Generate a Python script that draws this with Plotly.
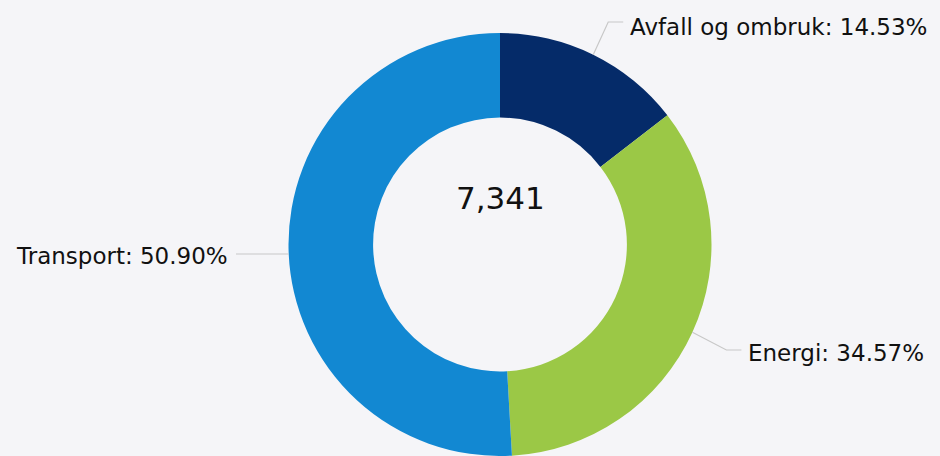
import math
import plotly.graph_objects as go

# ---- data ----
categories = ["Avfall og ombruk", "Energi", "Transport"]
shares = [14.53, 34.57, 50.90]
total = 7341
colors = ["#052b69", "#9bc846", "#1288d2"]

# ---- layout constants (pixels) ----
W, H = 940, 456
ML, MR, MT, MB = 60, 0, 33, 0
CX = ML + (W - ML - MR) / 2
PH = H - MT - MB
R = PH / 2
CY = MT + R

def px(x):
    return (x - ML) / (W - ML - MR)

def py(y):
    return (H - MB - y) / PH

fig = go.Figure(go.Pie(
    labels=categories, values=shares, hole=0.6, sort=False,
    direction="clockwise", rotation=0,
    marker=dict(colors=colors, line=dict(width=0)),
    textinfo="none", hoverinfo="label+percent",
    domain=dict(x=[0, 1], y=[0, 1]),
))

# label placement (layout only)
label_layout = [
    dict(ey=22, ex_off=15, side="right", ty=27),
    dict(ey=350, ex_off=34, side="right", ty=353),
    dict(ey=254, ex_off=None, side="left", ty=256),
]

shapes = []
annotations = []
tot = sum(shares)
cum = 0.0
for cat, v, lay in zip(categories, shares, label_layout):
    mid = (cum + v / 2) / tot * 2 * math.pi
    cum += v
    sx = CX + R * math.sin(mid)
    sy = CY - R * math.cos(mid)
    if lay["side"] == "right":
        ex, ey = sx + lay["ex_off"], lay["ey"]
        endx = ex + 15
        pts = [(sx, sy), (ex, ey), (endx, ey)]
        tx = endx + 5
        xanchor = "left"
    else:
        ey = lay["ey"]
        endx = 236
        pts = [(sx, ey), (endx, ey)]
        tx = endx - 6
        xanchor = "right"
    path = "M " + " L ".join(f"{px(a)},{py(b)}" for a, b in pts)
    shapes.append(dict(type="path", path=path, xref="paper", yref="paper",
                       line=dict(color="#c8c8c8", width=1.2)))
    annotations.append(dict(
        x=px(tx), y=py(lay["ty"]), xref="paper", yref="paper",
        text=f"{cat}: {v:.2f}%", showarrow=False, xanchor=xanchor,
        yanchor="middle", font=dict(family="DejaVu Sans", size=23, color="#111111"),
    ))

annotations.append(dict(
    x=px(CX), y=py(198), xref="paper", yref="paper", text=f"{total:,}",
    showarrow=False, xanchor="center", yanchor="middle",
    font=dict(family="DejaVu Sans", size=31, color="#111111"),
))

fig.update_layout(
    width=W, height=H, margin=dict(l=ML, r=MR, t=MT, b=MB),
    paper_bgcolor="#f5f5f8", plot_bgcolor="#f5f5f8",
    showlegend=False, shapes=shapes, annotations=annotations,
)
fig.write_html("out.html", config={"displayModeBar": False},
               post_script="document.body.style.margin='0';document.body.style.background='#f5f5f8';")
